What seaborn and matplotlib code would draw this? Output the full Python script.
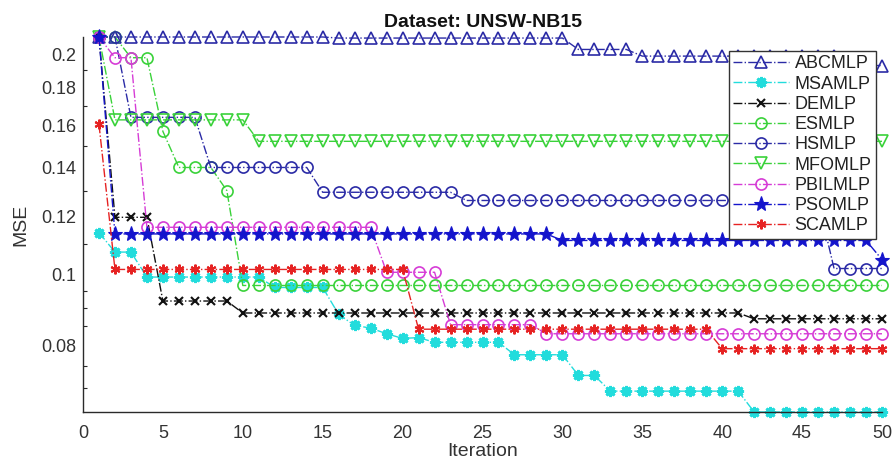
import matplotlib
matplotlib.use("Agg")
import matplotlib.pyplot as plt
import seaborn as sns
from matplotlib.ticker import FixedLocator, NullFormatter, FixedFormatter

# ---------------- data ----------------
iterations = list(range(1, 51))

abcmlp = [0.2110, 0.2110, 0.2110, 0.2110, 0.2110, 0.2110, 0.2110, 0.2110, 0.2110, 0.2110,
          0.2110, 0.2110, 0.2110, 0.2110, 0.2110, 0.2103, 0.2103, 0.2103, 0.2103, 0.2103,
          0.2103, 0.2103, 0.2103, 0.2103, 0.2103, 0.2103, 0.2103, 0.2103, 0.2103, 0.2103,
          0.2029, 0.2029, 0.2029, 0.2029, 0.1987, 0.1987, 0.1987, 0.1987, 0.1987, 0.1987,
          0.1987, 0.1987, 0.1987, 0.1987, 0.1987, 0.1987, 0.1987, 0.1929, 0.1929, 0.1929]

msamlp = [0.1141, 0.1073, 0.1073, 0.0992, 0.0992, 0.0992, 0.0992, 0.0992, 0.0992, 0.0992,
          0.0992, 0.0960, 0.0960, 0.0960, 0.0960, 0.0882, 0.0852, 0.0845, 0.0830, 0.0818,
          0.0820, 0.0808, 0.0808, 0.0808, 0.0808, 0.0808, 0.0777, 0.0777, 0.0777, 0.0777,
          0.0728, 0.0728, 0.0693, 0.0693, 0.0693, 0.0693, 0.0693, 0.0693, 0.0693, 0.0693,
          0.0693, 0.0649, 0.0649, 0.0649, 0.0649, 0.0649, 0.0649, 0.0649, 0.0649, 0.0649]

demlp = [0.2110, 0.1197, 0.1197, 0.1197, 0.0920, 0.0920, 0.0920, 0.0920, 0.0920, 0.0886,
         0.0886, 0.0886, 0.0886, 0.0886, 0.0886, 0.0886, 0.0886, 0.0886, 0.0886, 0.0886,
         0.0886, 0.0886, 0.0886, 0.0886, 0.0886, 0.0886, 0.0886, 0.0886, 0.0886, 0.0886,
         0.0886, 0.0886, 0.0886, 0.0886, 0.0886, 0.0886, 0.0886, 0.0886, 0.0886, 0.0886,
         0.0886, 0.0870, 0.0870, 0.0870, 0.0870, 0.0870, 0.0870, 0.0870, 0.0870, 0.0870]

esmlp = [0.2110, 0.2110, 0.1977, 0.1977, 0.1568, 0.1400, 0.1400, 0.1400, 0.1302, 0.0966,
         0.0966, 0.0966, 0.0966, 0.0966, 0.0966, 0.0966, 0.0966, 0.0966, 0.0966, 0.0966,
         0.0966, 0.0966, 0.0966, 0.0966, 0.0966, 0.0966, 0.0966, 0.0966, 0.0966, 0.0966,
         0.0966, 0.0966, 0.0966, 0.0966, 0.0966, 0.0966, 0.0966, 0.0966, 0.0966, 0.0966,
         0.0966, 0.0966, 0.0966, 0.0966, 0.0966, 0.0966, 0.0966, 0.0966, 0.0966, 0.0966]

hsmlp = [0.2110, 0.2110, 0.1639, 0.1639, 0.1639, 0.1639, 0.1639, 0.1400, 0.1400, 0.1400,
         0.1400, 0.1400, 0.1400, 0.1400, 0.1295, 0.1295, 0.1295, 0.1295, 0.1295, 0.1295,
         0.1295, 0.1295, 0.1295, 0.1262, 0.1262, 0.1262, 0.1262, 0.1262, 0.1262, 0.1262,
         0.1262, 0.1262, 0.1262, 0.1262, 0.1262, 0.1262, 0.1262, 0.1262, 0.1262, 0.1262,
         0.1262, 0.1262, 0.1262, 0.1262, 0.1262, 0.1262, 0.1019, 0.1019, 0.1019, 0.1019]

mfomlp = [0.2110, 0.1626, 0.1626, 0.1626, 0.1626, 0.1626, 0.1626, 0.1626, 0.1626, 0.1626,
          0.1520, 0.1520, 0.1520, 0.1520, 0.1520, 0.1520, 0.1520, 0.1520, 0.1520, 0.1520,
          0.1520, 0.1520, 0.1520, 0.1520, 0.1520, 0.1520, 0.1520, 0.1520, 0.1520, 0.1520,
          0.1520, 0.1520, 0.1520, 0.1520, 0.1520, 0.1520, 0.1520, 0.1520, 0.1520, 0.1520,
          0.1520, 0.1520, 0.1520, 0.1520, 0.1520, 0.1520, 0.1520, 0.1520, 0.1520, 0.1520]

pbilmlp = [0.2110, 0.1977, 0.1977, 0.1160, 0.1160, 0.1160, 0.1160, 0.1160, 0.1160, 0.1160,
           0.1160, 0.1160, 0.1160, 0.1160, 0.1160, 0.1160, 0.1160, 0.1160, 0.1007, 0.1007,
           0.1007, 0.1007, 0.0854, 0.0854, 0.0854, 0.0854, 0.0854, 0.0854, 0.0830, 0.0830,
           0.0830, 0.0830, 0.0830, 0.0830, 0.0830, 0.0830, 0.0830, 0.0830, 0.0830, 0.0830,
           0.0830, 0.0830, 0.0830, 0.0830, 0.0830, 0.0830, 0.0830, 0.0830, 0.0830, 0.0830]

psomlp = [0.2110, 0.1136, 0.1136, 0.1136, 0.1136, 0.1136, 0.1136, 0.1136, 0.1136, 0.1136,
          0.1136, 0.1136, 0.1136, 0.1136, 0.1136, 0.1136, 0.1136, 0.1136, 0.1136, 0.1136,
          0.1136, 0.1136, 0.1136, 0.1136, 0.1136, 0.1136, 0.1136, 0.1136, 0.1136, 0.1113,
          0.1113, 0.1113, 0.1113, 0.1113, 0.1113, 0.1113, 0.1113, 0.1113, 0.1113, 0.1113,
          0.1113, 0.1113, 0.1113, 0.1113, 0.1113, 0.1113, 0.1113, 0.1113, 0.1113, 0.1048]

scamlp = [0.1603, 0.1016, 0.1016, 0.1016, 0.1016, 0.1016, 0.1016, 0.1016, 0.1016, 0.1016,
          0.1016, 0.1016, 0.1016, 0.1016, 0.1016, 0.1016, 0.1016, 0.1016, 0.1016, 0.1016,
          0.0842, 0.0842, 0.0842, 0.0842, 0.0842, 0.0842, 0.0842, 0.0842, 0.0842, 0.0842,
          0.0842, 0.0842, 0.0842, 0.0842, 0.0842, 0.0842, 0.0842, 0.0842, 0.0842, 0.0792,
          0.0792, 0.0792, 0.0792, 0.0792, 0.0792, 0.0792, 0.0792, 0.0792, 0.0792, 0.0792]

series_names = ["ABCMLP", "MSAMLP", "DEMLP", "ESMLP", "HSMLP",
                "MFOMLP", "PBILMLP", "PSOMLP", "SCAMLP"]
series_values = [abcmlp, msamlp, demlp, esmlp, hsmlp, mfomlp, pbilmlp, psomlp, scamlp]

x_ticks = [0, 5, 10, 15, 20, 25, 30, 35, 40, 45, 50]
y_ticks = [0.08, 0.1, 0.12, 0.14, 0.16, 0.18, 0.2]
y_tick_labels = ["0.08", "0.1", "0.12", "0.14", "0.16", "0.18", "0.2"]
y_minor = [0.07, 0.075, 0.085, 0.09, 0.095, 0.11, 0.13, 0.15, 0.17, 0.19]

# ---------------- styles ----------------
navy = "#2b2ba6"
styles = {
    "ABCMLP": dict(color=navy, marker="^", mfc="none", ms=8, mew=1.2),
    "MSAMLP": dict(color="#22dcdc", marker=(8, 2, 0), mfc="#22dcdc", ms=8, mew=2.0),
    "DEMLP": dict(color="#111111", marker="x", mfc="#111111", ms=6, mew=1.5),
    "ESMLP": dict(color="#3ad23a", marker="o", mfc="none", ms=8, mew=1.2),
    "HSMLP": dict(color=navy, marker="o", mfc="none", ms=8, mew=1.2),
    "MFOMLP": dict(color="#3ad23a", marker="v", mfc="none", ms=8, mew=1.2),
    "PBILMLP": dict(color="#d63cd6", marker="o", mfc="none", ms=8, mew=1.2),
    "PSOMLP": dict(color="#1414cc", marker="*", mfc="#1414cc", ms=11, mew=0.8),
    "SCAMLP": dict(color="#e62222", marker=(6, 2, 0), mfc="#e62222", ms=7, mew=1.5),
}

sns.set_theme(style="white")
plt.rcParams["font.family"] = ["Liberation Sans", "DejaVu Sans"]

fig = plt.figure(figsize=(8.93, 4.61), dpi=100)
ax = fig.add_axes([83 / 893, 49 / 461, 799 / 893, 375 / 461])

for name, vals in zip(series_names, series_values):
    st = styles[name]
    sns.lineplot(x=iterations, y=vals, ax=ax, label=name,
                 color=st["color"], linestyle="-.", linewidth=1.0,
                 marker=st["marker"], markersize=st["ms"],
                 markerfacecolor=st["mfc"], markeredgecolor=st["color"],
                 markeredgewidth=st["mew"], clip_on=False)

ax.set_yscale("log")
ax.set_xlim(0, 50)
ax.set_ylim(min(msamlp), max(abcmlp))

ax.xaxis.set_major_locator(FixedLocator(x_ticks))
ax.yaxis.set_major_locator(FixedLocator(y_ticks))
ax.yaxis.set_major_formatter(FixedFormatter(y_tick_labels))
ax.yaxis.set_minor_locator(FixedLocator(y_minor))
ax.yaxis.set_minor_formatter(NullFormatter())

axis_col = "#2a2a2a"
for side in ["top", "right"]:
    ax.spines[side].set_visible(False)
for side in ["left", "bottom"]:
    ax.spines[side].set_color(axis_col)
    ax.spines[side].set_linewidth(1.0)

ax.tick_params(axis="both", which="major", direction="in", length=5, width=0.9,
               color=axis_col, labelsize=13, labelcolor="#333333")
ax.tick_params(axis="y", which="minor", direction="in", length=3, width=0.8,
               color=axis_col, left=True)
ax.tick_params(axis="x", which="major", pad=9)
ax.tick_params(axis="y", which="major", pad=5)

ax.set_xlabel("Iteration", fontsize=14, color="#333333", labelpad=1)
ax.set_ylabel("MSE", fontsize=14, color="#333333", labelpad=8)
ax.set_title("Dataset: UNSW-NB15", fontsize=14, fontweight="bold", color="#111111", pad=7)

leg = ax.legend(loc="upper left", bbox_to_anchor=(0.808, 0.963), frameon=True,
                fancybox=False, edgecolor="#333333", fontsize=13, handlelength=3.1,
                labelspacing=0.18, borderpad=0.25, handletextpad=0.3, borderaxespad=0)
leg.get_frame().set_linewidth(1.0)
leg.get_frame().set_alpha(1.0)
for t in leg.get_texts():
    t.set_color("#222222")

fig.savefig("out.png", dpi=100)
